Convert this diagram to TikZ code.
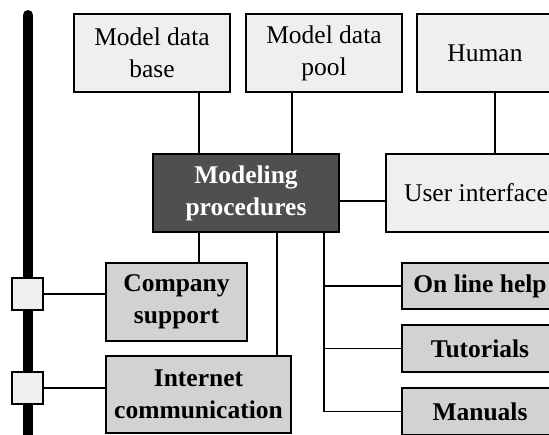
\documentclass[tikz,border=0pt]{standalone}
\usepackage{fontspec}
\setmainfont{Liberation Serif}
\definecolor{lightbox}{HTML}{EFEFEF}
\definecolor{midbox}{HTML}{D2D2D2}
\definecolor{darkbox}{HTML}{4F4F4F}
\begin{document}
\begin{tikzpicture}[x=1pt,y=-1pt,
  basebox/.style={draw=black, line width=2pt, inner sep=0pt, align=center,
    font=\fontsize{25.5}{32}\selectfont},
  lightnode/.style={basebox, fill=lightbox},
  midnode/.style={basebox, fill=midbox, font=\fontsize{25.5}{32}\selectfont\bfseries},
  darknode/.style={basebox, fill=darkbox, text=white, font=\fontsize{25.5}{32}\selectfont\bfseries},
  sqnode/.style={draw=black, line width=1.6pt, fill=lightbox, minimum width=31pt, minimum height=32pt, inner sep=0pt},
  link/.style={line width=1.8pt}]
\useasboundingbox (0,0) rectangle (549,434);
\clip (0,0) rectangle (549,434);
% bus bar
\coordinate (bartop) at (28,15);
\coordinate (barbot) at (28,445);
\draw[line width=10pt, line cap=round] (bartop) -- (barbot);
% nodes
\node[lightnode, minimum width=156pt, minimum height=78pt] (mdb) at (152,53) {Model data\\base};
\node[lightnode, minimum width=156pt, minimum height=78pt] (mdp) at (324,53) {Model data\\pool};
\node[lightnode, minimum width=136pt, minimum height=78pt] (human) at (485,53) {Human};
\node[darknode, minimum width=186pt, minimum height=78pt] (mp) at (246,193) {Modeling\\procedures};
\node[lightnode, minimum width=180pt, minimum height=78pt] (ui) at (476,193) {User interface};
\node[midnode, minimum width=141pt, minimum height=78pt] (cs) at (176.5,302) {Company\\support};
\node[midnode, minimum width=185pt, minimum height=77pt] (ic) at (198.5,394.5) {Internet\\communication};
\node[midnode, minimum width=156pt, minimum height=46pt] (olh) at (480,286) {On line help};
\node[midnode, minimum width=156pt, minimum height=47pt] (tut) at (480,348.5) {Tutorials};
\node[midnode, minimum width=156pt, minimum height=47pt] (man) at (480,411.5) {Manuals};
\node[sqnode] (sq1) at (27.5,294) {};
\node[sqnode] (sq2) at (27.5,388) {};
% connector positions
\coordinate (xa) at (199,0);
\coordinate (xb) at (292,0);
\coordinate (xc) at (495,0);
\coordinate (xd) at (277,0);
\coordinate (xe) at (324,0);
\coordinate (ya) at (0,201);
% connectors
\draw[link] (mdb.south -| xa) -- (mp.north -| xa);
\draw[link] (mdp.south -| xb) -- (mp.north -| xb);
\draw[link] (human.south -| xc) -- (ui.north -| xc);
\draw[link] (mp.east |- ya) -- (ui.west |- ya);
\draw[link] (mp.south -| xa) -- (cs.north -| xa);
\draw[link] (mp.south -| xd) -- (ic.north -| xd);
\draw[link] (mp.south -| xe) |- (man.west);
\draw[link] (xe |- olh.west) -- (olh.west);
\draw[link] (xe |- tut.west) -- (tut.west);
\draw[link] (sq1.east) -- (cs.west |- sq1.east);
\draw[link] (sq2.east) -- (ic.west |- sq2.east);
\end{tikzpicture}
\end{document}
